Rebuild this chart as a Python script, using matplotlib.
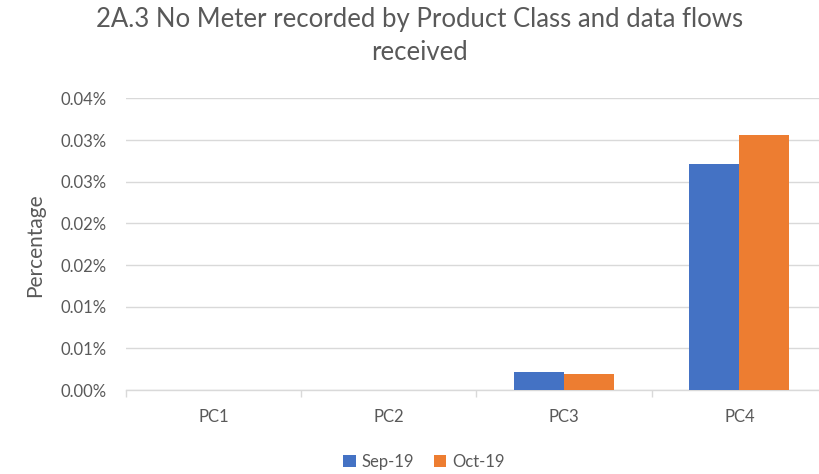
import matplotlib
matplotlib.use("Agg")
import matplotlib.pyplot as plt
import numpy as np

categories = ["PC1", "PC2", "PC3", "PC4"]
series_names = ["Sep-19", "Oct-19"]
sep_19 = [0.0, 0.0, 0.00213, 0.0271]   # percent
oct_19 = [0.0, 0.0, 0.00196, 0.0306]   # percent
y_ticks = [0.0, 0.005, 0.010, 0.015, 0.020, 0.025, 0.030, 0.035]
y_tick_labels = ["0.00%", "0.01%", "0.01%", "0.02%", "0.02%", "0.03%", "0.03%", "0.04%"]

BLUE = "#4472C4"
ORANGE = "#ED7D31"
TEXT = "#595959"
GRID = "#D9D9D9"

plt.rcParams["font.family"] = ["Lato", "DejaVu Sans"]

fig = plt.figure(figsize=(8.2, 4.74), dpi=100)
ax = fig.add_axes([0.1533, 0.1772, 0.8553, 0.615])

x = np.arange(len(categories))
bw = 0.285
ax.bar(x - bw / 2, sep_19, bw, color=BLUE, label=series_names[0], zorder=3)
ax.bar(x + bw / 2, oct_19, bw, color=ORANGE, label=series_names[1], zorder=3)

ax.set_xlim(-0.5, len(categories) - 0.5)
ax.set_ylim(0, 0.035)
ax.set_yticks(y_ticks)
ax.set_yticklabels(y_tick_labels)
ax.set_xticks(x)
ax.set_xticklabels(categories)
ax.yaxis.grid(True, color=GRID, linewidth=1, zorder=0)

# category boundary ticks on the x axis
ax.set_xticks(np.arange(-0.5, len(categories)), minor=True)
ax.tick_params(axis="x", which="major", length=0, pad=14, labelsize=12, labelcolor=TEXT)
ax.tick_params(axis="x", which="minor", length=5, color=GRID, width=1)
ax.tick_params(axis="y", length=0, pad=14, labelsize=12, labelcolor=TEXT)

for side in ["top", "right", "left"]:
    ax.spines[side].set_visible(False)
ax.spines["bottom"].set_color(GRID)
ax.spines["bottom"].set_linewidth(1)

fig.text(35 / 820, 1 - 245 / 474, "Percentage", rotation=90, ha="center", va="center",
         fontsize=15, color=TEXT)

fig.text(0.512, 1 - 36 / 474, "2A.3 No Meter recorded by Product Class and data flows\nreceived",
         ha="center", va="center", fontsize=18.5, color=TEXT, linespacing=1.45)

fig.legend(loc="center", bbox_to_anchor=(0.517, 1 - 462 / 474), ncol=2, frameon=False,
           fontsize=12, handlelength=0.75, handleheight=0.75, handletextpad=0.35,
           columnspacing=1.2, labelcolor=TEXT)

fig.savefig("out.png", dpi=100)
